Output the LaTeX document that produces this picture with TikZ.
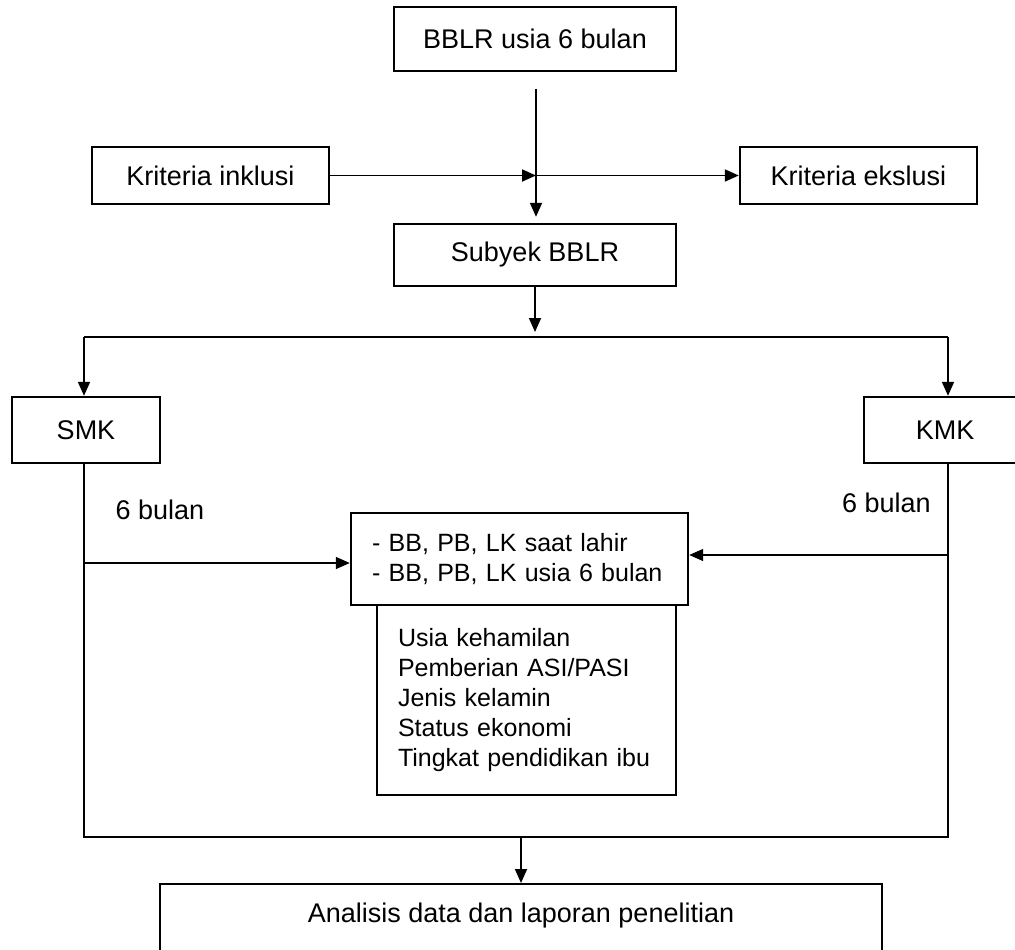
\documentclass[tikz,border=0pt]{standalone}
\usepackage{fontspec}
\setmainfont{Liberation Sans}
\usepackage{tikz}
\usetikzlibrary{calc}
\usetikzlibrary{positioning}
\usetikzlibrary{arrows.meta}

\begin{document}
\begin{tikzpicture}[x=1pt,y=-1pt,
                    nodes={font=\fontsize{27}{30}\selectfont},
                    kotak/.style={draw,line width=2.4pt,inner sep=0pt},
                    daftar/.style={kotak,inner xsep=21pt,align=left,
                                   font=\fontsize{25}{30}\selectfont},
                    panah/.style={line width=1.8pt,-{Triangle[length=14pt,width=12pt]}},
                    panahtipis/.style={line width=1.3pt,-{Triangle[length=14pt,width=12pt]}},
                    garis/.style={line width=1.8pt}]
 \useasboundingbox (0,0) rectangle (1015,950);
 \node[kotak,minimum width=282pt,minimum height=64pt] (top) at (535,39) {BBLR usia 6 bulan};
 \node[kotak,minimum width=237pt,minimum height=57pt] (incl) at (210.5,175.5) {Kriteria inklusi};
 \node[kotak,minimum width=237pt,minimum height=57pt] (ekskl) at (858.5,175.5) {Kriteria ekslusi};
 \node[kotak,minimum width=282pt,minimum height=62pt] (subyek) at (535,255) {Subyek BBLR};
 \node[kotak,minimum width=148pt,minimum height=66pt] (smk) at (86,430) {SMK};
 \node[kotak,minimum width=162pt,minimum height=66pt] (kmk) at (945,430) {KMK};
 \node (lamaL) at (160,510) {6 bulan};
 \node (lamaR) at (886.5,503) {6 bulan};
 \node[daftar,text width=295pt,minimum height=92pt] (ukur) at (519.5,559)
   {- BB, PB, LK saat lahir\\- BB, PB, LK usia 6 bulan};
 \node[daftar,text width=257pt,minimum height=190pt] (faktor) at (526.5,700)
   {Usia kehamilan\\Pemberian ASI/PASI\\Jenis kelamin\\Status ekonomi\\Tingkat pendidikan ibu};
 \node[kotak,anchor=north,minimum width=722pt,text height=20pt,text depth=70pt,inner ysep=18pt]
   (analisis) at (521,883) {Analisis data dan laporan penelitian};

 \coordinate (awal) at (536,89);
 \coordinate (silang) at (awal |- incl.east);
 \coordinate (bagiL) at (84,337);
 \coordinate (bagiR) at (948,337);
 \coordinate (gabungL) at (84,837);
 \coordinate (gabungR) at (948,837);
 \coordinate (masukL) at ([yshift=-4pt]ukur.west);
 \coordinate (masukR) at ([yshift=4pt]ukur.east);

 \draw[panah,shorten >=6pt] (awal) -- (awal |- subyek.north);
 \draw[panah] (incl.east) -- (silang);
 \draw[panah] (silang) -- (ekskl.west);
 \draw[panah] (subyek.south) -- ([yshift=5pt]subyek.south |- bagiL);
 \draw[garis] (bagiL) -- (bagiR);
 \draw[panah] (bagiL) -- (bagiL |- smk.north);
 \draw[panah] (bagiR) -- (bagiR |- kmk.north);
 \draw[garis] (bagiL |- smk.south) -- (gabungL) -- (gabungR) -- (bagiR |- kmk.south);
 \draw[panahtipis] (bagiL |- masukL) -- (masukL);
 \draw[panahtipis] (bagiR |- masukR) -- (masukR);
 \draw[panah] (gabungL -| analisis.north) -- (analisis.north);
\end{tikzpicture}
\end{document}
